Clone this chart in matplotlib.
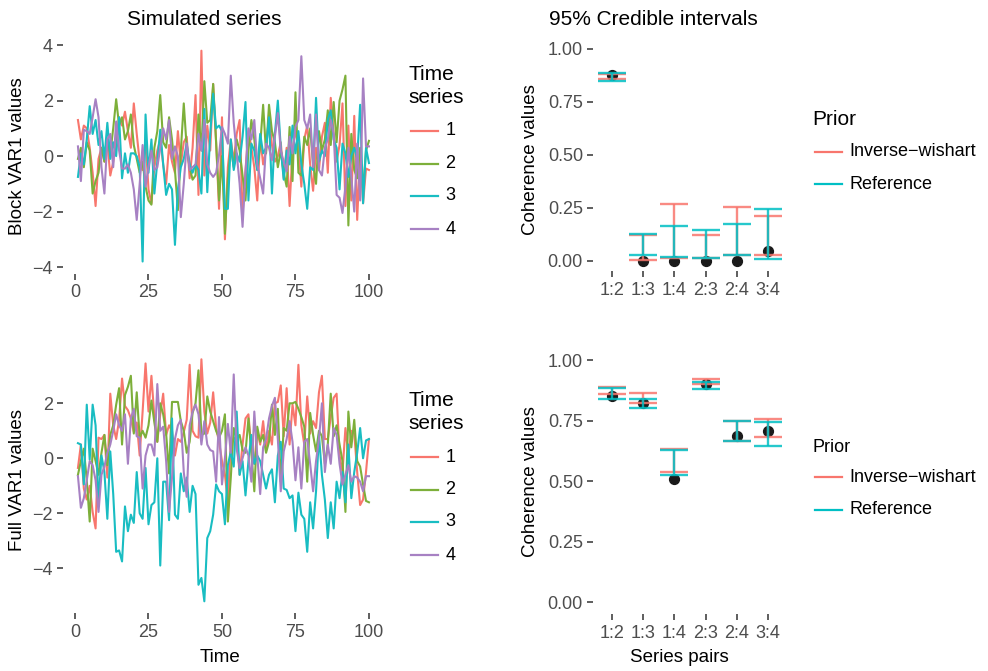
import numpy as np
import matplotlib
matplotlib.use('Agg')
import matplotlib.pyplot as plt
from matplotlib.lines import Line2D

plt.rcParams['font.family'] = ['Liberation Sans', 'DejaVu Sans']

W, H = 988, 671

# time axis
time = np.arange(1, 101)

# Block VAR1 simulated series
block_1 = [1.3, 0.6, 1.1, 1.0, 0.3, -0.6, -1.8, -0.1, 0.3, -0.2,
           0.5, -0.7, -0.2, 0.6, 1.4, 1.1, 1.6, 0.9, 0.3, 1.9,
           0.8, -0.2, -0.5, 0.6, -1.2, -1.7, -0.4, 0.2, 0.6, -0.3,
           -1.0, 0.4, -0.2, -0.6, 0.9, -0.3, 0.5, 0.7, -0.8, 0.3,
           2.2, -1.4, 3.8, -0.7, 1.1, 0.2, 2.6, 0.5, -1.9, 1.4,
           -3.0, -0.4, 0.6, -0.2, 0.8, 1.3, -2.1, -0.5, 0.9, 0.3,
           -0.4, -1.6, 0.7, -0.3, 0.2, 1.5, 0.4, -0.2, 0.0, 0.5,
           -0.8, 0.3, -1.8, 0.2, 0.9, 0.4, -1.1, 0.6, 1.1, -0.3,
           -1.25, 0.3, -0.5, 0.7, 1.2, -0.6, 2.1, 0.8, -0.2, 0.4,
           1.9, -1.8, 1.1, -1.6, 1.45, -2.3, 0.2, -1.7, -0.45, -0.5]
block_2 = [-0.1, 0.3, -0.4, 0.5, 0.2, -1.35, -0.9, -0.6, 0.3, -0.2,
           0.6, 0.1, 1.0, 2.05, 1.1, 1.4, 0.6, 0.9, 1.5, 0.4,
           -0.1, -0.6, -0.2, -1.1, -1.6, -1.75, 0.3, 0.9, 2.2, 0.5,
           0.3, 1.4, 0.6, -0.5, -1.95, 0.2, 1.9, 0.3, -0.4, -0.85,
           -0.7, 1.5, 0.2, 2.7, 1.2, 1.3, 2.6, 0.5, -1.6, 0.0,
           -2.8, -0.8, 0.3, -0.4, 0.6, 0.2, -0.7, -1.6, 0.2, 1.3,
           0.6, -0.5, 0.4, 1.85, 0.1, 1.85, 0.9, 0.5, -0.4, 0.2,
           -0.6, -1.1, 1.05, -0.9, 2.3, -0.6, -0.7, 0.7, 0.4, 1.0,
           -0.3, -1.0, 0.9, 0.2, 0.6, 1.65, 0.4, 1.95, 0.5, 2.0,
           2.4, 2.9, -2.5, 0.8, -0.5, -0.8, 0.3, -1.2, 0.2, 0.55]
block_3 = [-0.75, 0.1, -0.3, 0.6, 1.8, 0.8, 1.3, 0.4, 0.9, -0.1,
           1.2, -0.1, 0.5, 0.0, 1.4, -0.8, 0.1, -0.6, 0.1, 0.1,
           0.0, -0.4, -3.8, 1.5, -0.6, 0.6, -1.35, -0.2, 0.95, -0.3,
           -1.4, -1.0, -1.2, -3.2, -1.2, -0.4, -0.1, 0.45, -0.3, -0.6,
           -0.3, -0.5, -1.35, 1.7, -1.3, 0.8, 2.25, 1.0, 1.1, 0.9,
           -1.9, -1.9, 0.6, -0.5, 0.1, -0.2, 0.7, 1.95, -1.6, 0.45,
           0.2, -0.5, 0.8, 0.1, 0.3, 1.4, -1.35, 0.8, 2.0, 0.3,
           -0.85, 0.2, -0.3, 1.1, 0.1, 0.9, -0.3, -1.0, -1.9, -0.4,
           -0.5, 2.1, -0.2, 0.2, 0.0, 1.3, 1.65, 0.6, 0.3, -1.2,
           0.45, 0.1, -0.75, 0.0, 0.3, -0.1, 1.85, -1.7, 0.3, -0.25]
block_4 = [0.35, -0.9, 0.95, 0.9, 0.8, 1.4, 2.05, 1.4, -0.4, -1.35,
           0.6, 0.8, -0.4, 1.25, 0.2, -0.45, -0.45, -0.3, -0.6, -1.2,
           -2.3, -1.0, 0.4, -1.1, -0.4, 0.2, -0.5, -0.4, 0.3, 1.0,
           0.6, 1.3, -0.1, 0.35, 0.0, -2.2, -1.0, 0.45, -0.5, -0.4,
           -0.3, 0.8, 0.2, 1.3, -0.3, -0.6, -0.75, -0.6, 0.05, 1.05,
           0.8, 0.45, 2.9, 1.2, 0.1, -1.0, -2.55, -0.6, 1.0, 0.6,
           1.3, -0.3, -0.8, -1.35, 0.45, 0.3, -0.15, 0.7, 1.55, 0.2,
           -0.2, -0.55, 0.7, 0.1, 1.05, 1.3, 3.6, 1.3, 1.0, 1.5,
           -0.4, 1.5, -0.5, -0.7, 0.3, 0.6, 1.3, 0.8, -1.4, -1.5,
           -2.05, -1.1, 0.3, -0.75, -2.0, 0.45, -1.6, 2.8, 0.35, 0.35]

# Full VAR1 simulated series
full_1 = [-0.35, 0.5, -1.1, -1.5, -1.0, -1.95, -2.55, 0.75, 0.7, 0.85,
          -0.7, 2.35, 1.2, 0.7, 1.4, 2.9, 1.9, 1.75, 1.45, 0.95,
          1.3, 0.1, 1.7, 3.45, 1.7, 3.0, 1.5, 0.6, 1.6, 2.35,
          0.85, 1.2, 1.0, 0.1, 0.7, 0.6, 0.95, 1.4, 3.4, 1.0,
          0.8, 0.75, 3.6, 1.7, 0.9, 1.3, 2.4, 1.1, 0.6, -0.1,
          -0.6, -1.6, 0.6, 0.7, 0.8, -0.6, 0.5, 1.45, 1.6, 0.3,
          -0.2, 1.0, 0.5, 1.35, 0.3, 1.0, 0.5, 2.0, 2.05, 2.65,
          0.8, 2.55, 0.5, 1.95, 1.2, 3.4, 1.2, 0.5, 2.25, 0.9,
          1.35, 1.1, 2.4, 3.0, 0.7, 0.7, 1.5, 2.2, 2.35, 0.1,
          -0.5, 1.1, 0.1, 1.0, 0.9, -0.5, -1.7, -1.5, -0.5, 0.7]
full_2 = [-0.6, -0.1, 0.35, -0.8, -2.3, 0.35, -0.1, -0.6, 0.2, 0.85,
          -0.25, 0.85, 1.2, 1.95, 2.55, 0.5, 2.3, 2.6, 3.0, 0.9,
          2.4, 0.75, 1.0, 0.75, 1.2, 2.1, 1.3, 0.6, 2.0, 1.6,
          0.9, -0.55, 2.05, 2.05, 2.05, 1.35, 1.0, 0.2, 0.6, 1.65,
          2.0, 3.2, 0.85, 0.9, 2.25, 1.7, 1.35, 1.0, 0.75, 1.0,
          1.6, -2.3, -0.7, 1.1, 0.7, 0.85, 0.3, 0.2, 1.45, 0.2,
          -1.2, 1.15, 0.6, 0.85, 0.2, 0.6, 1.95, 0.85, 1.8, -0.85,
          1.1, 1.0, 2.0, 2.0, 2.05, 1.8, 1.5, 1.15, -0.85, 1.65,
          0.85, 0.25, 1.0, 0.8, -0.2, 0.5, 2.35, 0.8, 1.2, 0.5,
          -0.1, -1.95, 1.7, 0.4, 1.4, -0.1, -0.3, -0.95, -1.55, -1.6]
full_3 = [0.55, 0.5, -0.95, 1.95, -0.05, 1.95, 1.2, -1.65, 0.1, -0.5,
          -2.2, 0.25, -1.3, -3.4, -3.35, -3.75, -1.75, -2.65, -2.05, -2.35,
          -0.5, -2.0, -2.2, -0.35, -2.4, -1.7, -1.6, 0.0, -3.9, -0.85,
          -0.85, -2.25, 1.45, -2.05, -2.2, -0.55, -1.2, -0.7, -1.95, -1.0,
          -1.3, -4.6, -4.35, -5.2, -2.9, -2.65, -2.05, -0.95, -1.2, -1.3,
          -2.4, -0.25, 0.25, -0.3, 1.7, -0.6, -0.1, -1.35, -0.1, 0.85,
          -0.2, 0.1, -0.1, -0.6, -1.1, -0.6, -0.4, -1.6, 0.1, 0.6,
          -1.1, -1.15, -1.45, -1.35, -2.65, -1.25, -2.05, -2.2, -3.4, -1.6,
          -2.55, -1.2, 0.85, -0.6, -1.5, -2.9, -1.6, -2.55, -0.85, -1.45,
          -0.5, -1.6, 0.5, -1.45, -0.5, 0.2, 1.1, 0.0, 0.65, 0.7]
full_4 = [-0.65, -1.8, -1.45, -0.8, -0.1, -0.25, -0.8, -1.95, -0.6, -0.3,
          0.2, 0.5, 1.0, 1.6, 1.2, 1.0, 1.6, -0.2, 1.45, 1.8,
          0.8, 0.75, -1.1, 0.1, 0.5, 0.5, 0.1, 2.7, 1.0, 1.15,
          -0.1, -1.95, -0.7, 0.7, 1.2, 1.4, -0.5, -1.4, 1.2, 1.7,
          1.95, 1.6, 0.5, 1.35, 0.5, 0.3, 0.25, -0.85, 1.5, -0.95,
          0.0, 1.25, 0.2, 3.05, 0.35, -0.35, 0.0, 0.4, 0.1, -0.85,
          1.7, 0.1, -1.3, 0.4, 0.7, 1.45, 1.9, 2.2, 0.7, -1.2,
          0.25, 0.7, 1.35, 0.6, -0.8, 0.4, -1.1, 0.6, 0.7, -0.2,
          -1.2, -0.1, 0.7, 2.0, -0.5, 0.5, -0.2, 1.1, 0.85, -0.2,
          -0.95, -0.6, -0.25, -0.85, -0.65, -0.7, -0.85, -1.2, -0.65, -0.65]

series_names = ['1', '2', '3', '4']
series_colors = ['#F8766D', '#7DAF3A', '#19BDC2', '#A781C3']

# coherence credible intervals
pairs = ['1:2', '1:3', '1:4', '2:3', '2:4', '3:4']
block_point = [0.877, 0.0, 0.0, 0.0, 0.0, 0.046]
block_iw_lo = [0.860, 0.005, 0.015, 0.012, 0.025, 0.025]
block_iw_hi = [0.882, 0.121, 0.268, 0.120, 0.254, 0.211]
block_ref_lo = [0.850, 0.027, 0.018, 0.013, 0.028, 0.008]
block_ref_hi = [0.888, 0.128, 0.165, 0.145, 0.175, 0.243]
full_point = [0.851, 0.821, 0.508, 0.900, 0.686, 0.707]
full_iw_lo = [0.858, 0.821, 0.536, 0.900, 0.667, 0.684]
full_iw_hi = [0.890, 0.862, 0.633, 0.920, 0.750, 0.755]
full_ref_lo = [0.839, 0.800, 0.524, 0.879, 0.664, 0.647]
full_ref_hi = [0.886, 0.839, 0.629, 0.909, 0.748, 0.746]

prior_names = ['Inverse\u2212wishart', 'Reference']
prior_colors = ['#F8766D', '#00BFC4']

fig = plt.figure(figsize=(W / 100, H / 100), dpi=100)


def add_axes_px(left, top, right, bottom):
    return fig.add_axes([left / W, 1 - bottom / H, (right - left) / W, (bottom - top) / H])


def style(ax):
    for sp in ax.spines.values():
        sp.set_visible(False)
    ax.tick_params(length=4, width=1.1, color='#333333', labelcolor='#4D4D4D',
                   labelsize=13, pad=3.5)


def ftext(x, y, s, **kw):
    fig.text(x / W, 1 - y / H, s, **kw)


def legend_px(title, labels, colors, x_title, y_title, ys, title_size=15):
    ftext(x_title, y_title, title, ha='left', va='top', fontsize=title_size,
          linespacing=1.27)
    for lab, col, y in zip(labels, colors, ys):
        fig.add_artist(Line2D([(x_title + 3) / W, (x_title + 30) / W],
                              [1 - y / H, 1 - y / H], color=col, lw=1.6,
                              transform=fig.transFigure))
        ftext(x_title + 37.5, y, lab, ha='left', va='center', fontsize=13)


# time series panels
ts_panels = [
    ([block_1, block_2, block_3, block_4], (38.2, 274.0), (-4.25, 4.25), [-4, -2, 0, 2, 4]),
    ([full_1, full_2, full_3, full_4], (347.2, 613.4), (-5.64, 4.04), [-4, -2, 0, 2]),
]
for data, (top, bottom), ylim, yticks in ts_panels:
    ax = add_axes_px(63.4, top, 383.5, bottom)
    for vals, col, name in zip(data, series_colors, series_names):
        ax.plot(time, vals, color=col, lw=1.5, label=name)
    ax.set_xlim(-3.95, 104.95)
    ax.set_ylim(*ylim)
    ax.set_xticks([0, 25, 50, 75, 100])
    ax.set_yticks(yticks)
    style(ax)

# credible interval panels
ci_panels = [
    (block_point, block_iw_lo, block_iw_hi, block_ref_lo, block_ref_hi, (38.4, 271.3)),
    (full_point, full_iw_lo, full_iw_hi, full_ref_lo, full_ref_hi, (347.9, 614.4)),
]
xpos = np.arange(1, len(pairs) + 1)
for pt, iw_lo, iw_hi, rf_lo, rf_hi, (top, bottom) in ci_panels:
    ax = add_axes_px(593.3, top, 786.7, bottom)
    ax.scatter(xpos, pt, s=50, color='#1a1a1a', zorder=2)
    for lo, hi, col in [(iw_lo, iw_hi, prior_colors[0]), (rf_lo, rf_hi, prior_colors[1])]:
        ax.vlines(xpos, lo, hi, color=col, lw=1.7, alpha=0.85, zorder=3)
        ax.hlines(lo, xpos - 0.45, xpos + 0.45, color=col, lw=1.7, alpha=0.85, zorder=3)
        ax.hlines(hi, xpos - 0.45, xpos + 0.45, color=col, lw=1.7, alpha=0.85, zorder=3)
    ax.set_xlim(0.4, 6.6)
    ax.set_ylim(-0.05, 1.05)
    ax.set_xticks(xpos)
    ax.set_xticklabels(pairs)
    ax.set_yticks([0, 0.25, 0.5, 0.75, 1.0])
    ax.set_yticklabels(['0.00', '0.25', '0.50', '0.75', '1.00'])
    style(ax)

# titles and axis labels
ftext(204.5, 25, 'Simulated series', ha='center', va='baseline', fontsize=15)
ftext(653, 25, '95% Credible intervals', ha='center', va='baseline', fontsize=15)
ftext(18, 156, 'Block VAR1 values', rotation=90, ha='center', va='center', fontsize=13.5)
ftext(18, 480, 'Full VAR1 values', rotation=90, ha='center', va='center', fontsize=13.5)
ftext(530, 160, 'Coherence values', rotation=90, ha='center', va='center', fontsize=13.5)
ftext(530, 482, 'Coherence values', rotation=90, ha='center', va='center', fontsize=13.5)
ftext(220, 657, 'Time', ha='center', va='center', fontsize=13.5)
ftext(679, 657, 'Series pairs', ha='center', va='center', fontsize=13.5)

# legends
legend_px('Time\nseries', series_names, series_colors, 408, 65, [130.7, 163.5, 196, 229.3])
legend_px('Time\nseries', series_names, series_colors, 408, 391, [457, 489.5, 522, 555])
legend_px('Prior', prior_names, prior_colors, 812, 110, [151.7, 184.3])
legend_px('Prior', prior_names, prior_colors, 812, 439, [477.3, 510], title_size=13)

fig.savefig('out.png', dpi=100)
